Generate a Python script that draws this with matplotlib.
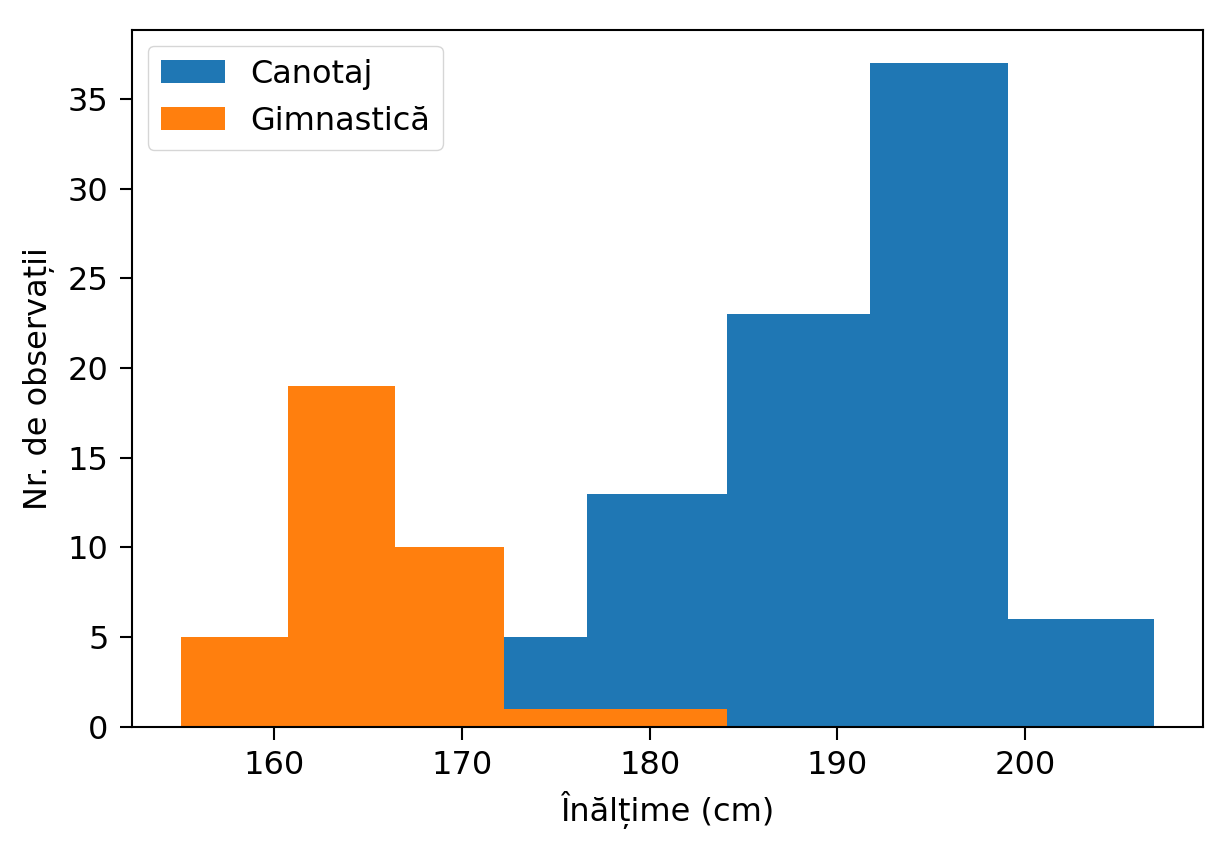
import numpy as np
import matplotlib
matplotlib.use("Agg")
import matplotlib.pyplot as plt

# bin edges and counts
canotaj_edges = [169.0, 176.64, 184.13, 191.76, 199.1, 206.88]
canotaj_counts = [5, 13, 23, 37, 6]

gimnastica_edges = [155.0, 160.72, 166.42, 172.26, 178.2, 184.13]
gimnastica_counts = [5, 19, 10, 1, 1]

plt.rcParams['font.family'] = ['DejaVu Sans']
plt.rcParams['font.size'] = 23


def centers(edges):
    e = np.asarray(edges)
    return (e[:-1] + e[1:]) / 2


fig = plt.figure(figsize=(12.29, 8.48), dpi=100)
ax = fig.add_axes([0.1074, 0.1430, 0.8712, 0.8216])

ax.hist(centers(canotaj_edges), bins=canotaj_edges, weights=canotaj_counts,
        color='#1f77b4', label='Canotaj')
ax.hist(centers(gimnastica_edges), bins=gimnastica_edges, weights=gimnastica_counts,
        color='#ff7f0e', label='Gimnastică')

ax.set_xticks([160, 170, 180, 190, 200])
ax.set_yticks([0, 5, 10, 15, 20, 25, 30, 35])
ax.set_xlabel('Înălțime (cm)', labelpad=7)
ax.set_ylabel('Nr. de observații', labelpad=9)

for s in ax.spines.values():
    s.set_linewidth(1.5)
ax.tick_params(length=9, width=1.5, pad=8)

ax.legend(loc='upper left', fontsize=23, borderaxespad=0.5)

fig.savefig('out.png', dpi=100)
